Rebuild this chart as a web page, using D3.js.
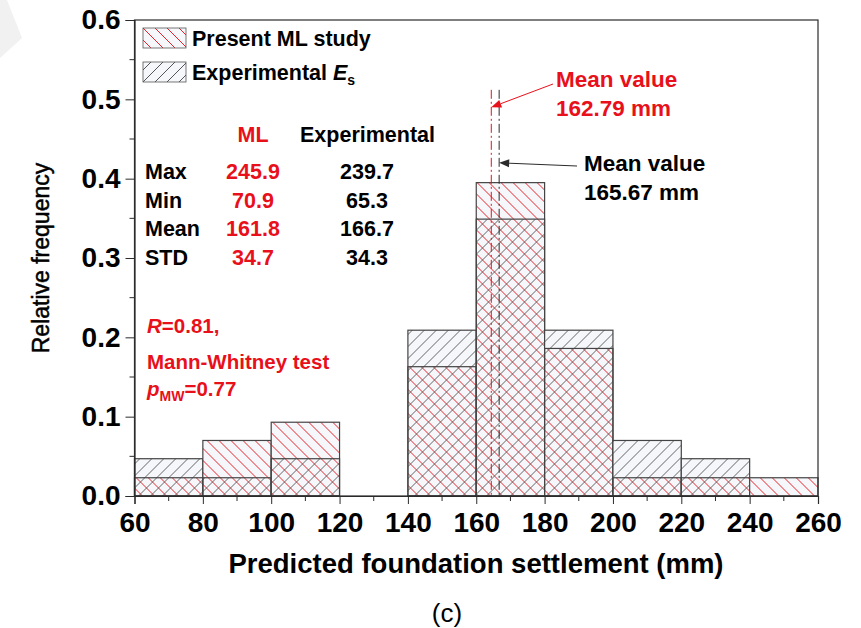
<!DOCTYPE html>
<html>
<head>
<meta charset="utf-8">
<script src="https://cdn.jsdelivr.net/npm/d3@7"></script>
<style>
  body { margin: 0; background: #fff; }
  text { font-family: "Liberation Sans", Arial, sans-serif; }
</style>
</head>
<body>
<script>
// histogram bins (lower edge, width 20 mm)
const binStart = [60, 80, 100, 120, 140, 160, 180, 200, 220, 240]
const binWidth = 20
const mlFreq  = [0.023, 0.070, 0.093, 0, 0.163, 0.395, 0.186, 0.023, 0.023, 0.023]
const expFreq = [0.047, 0.023, 0.047, 0, 0.209, 0.349, 0.209, 0.070, 0.047, 0]

const xTicks = [60, 80, 100, 120, 140, 160, 180, 200, 220, 240, 260]
const yTicks = [0.0, 0.1, 0.2, 0.3, 0.4, 0.5, 0.6]

// mean lines as drawn on the figure
const meanPos = [164.4, 166.7]
const meanLabels = ["162.79 mm", "165.67 mm"]

const statRows = ["Max", "Min", "Mean", "STD"]
const statML  = ["245.9", "70.9", "161.8", "34.7"]
const statExp = ["239.7", "65.3", "166.7", "34.3"]

const red = "#e8101a"
const dark = "#2b2b2b"
const mlLine = "#e8222c"
const expLine = "#555"

const margin = {top: 20, right: 43, bottom: 132, left: 134.5}
const W = 861, H = 628
const width = W - margin.left - margin.right
const height = H - margin.top - margin.bottom

const x = d3.scaleLinear().domain([60, 260]).range([0, width])
const y = d3.scaleLinear().domain([0, 0.6]).range([height, 0])

const svg = d3.select("body").append("svg")
    .attr("width", W)
    .attr("height", H)

// faint shape in the corner of the source image
svg.append("path")
    .attr("d", "M0,0 L7,0 L22,38 L0,58 Z")
    .attr("fill", "#f1f1f1")

const defs = svg.append("defs")
defs.append("pattern")
    .attr("id", "mlHatch")
    .attr("patternUnits", "userSpaceOnUse")
    .attr("width", 12).attr("height", 12)
    .append("path")
    .attr("d", "M-6,6 L6,18 M0,0 L12,12 M6,-6 L18,6")
    .attr("stroke", mlLine)
    .attr("stroke-width", 1)
defs.append("pattern")
    .attr("id", "expHatch")
    .attr("patternUnits", "userSpaceOnUse")
    .attr("width", 12).attr("height", 12)
    .append("path")
    .attr("d", "M-6,6 L6,-6 M0,12 L12,0 M6,18 L18,6")
    .attr("stroke", expLine)
    .attr("stroke-width", 0.9)

const g = svg.append("g")
    .attr("transform", "translate(" + margin.left + "," + margin.top + ")")

const bins = binStart.map(function(s, i) {
    return {x0: s, x1: s + binWidth, ml: mlFreq[i], exp: expFreq[i]}
})

const bin = g.selectAll(".bin")
    .data(bins)
    .enter()
    .append("g")
    .attr("class", "bin")

bin.append("rect")
    .attr("x", d => x(d.x0))
    .attr("width", d => x(d.x1) - x(d.x0))
    .attr("y", d => y(Math.max(d.ml, d.exp)))
    .attr("height", d => height - y(Math.max(d.ml, d.exp)))
    .attr("fill", "#f5f7fa")

bin.append("rect")
    .attr("x", d => x(d.x0))
    .attr("width", d => x(d.x1) - x(d.x0))
    .attr("y", d => y(d.ml))
    .attr("height", d => height - y(d.ml))
    .attr("fill", "url(#mlHatch)")

bin.append("rect")
    .attr("x", d => x(d.x0))
    .attr("width", d => x(d.x1) - x(d.x0))
    .attr("y", d => y(d.exp))
    .attr("height", d => height - y(d.exp))
    .attr("fill", "url(#expHatch)")

bin.filter(d => d.ml > 0).append("rect")
    .attr("x", d => x(d.x0))
    .attr("width", d => x(d.x1) - x(d.x0))
    .attr("y", d => y(d.ml))
    .attr("height", d => height - y(d.ml))
    .attr("fill", "none")
    .attr("stroke", "#444")
    .attr("stroke-width", 1.2)

bin.filter(d => d.exp > 0).append("rect")
    .attr("x", d => x(d.x0))
    .attr("width", d => x(d.x1) - x(d.x0))
    .attr("y", d => y(d.exp))
    .attr("height", d => height - y(d.exp))
    .attr("fill", "none")
    .attr("stroke", "#444")
    .attr("stroke-width", 1.2)

// mean lines
g.selectAll(".mean")
    .data(meanPos)
    .enter()
    .append("line")
    .attr("class", "mean")
    .attr("x1", d => x(d)).attr("x2", d => x(d))
    .attr("y1", y(0.512)).attr("y2", height)
    .attr("stroke", (d, i) => i == 0 ? red : dark)
    .attr("stroke-width", 1)
    .attr("stroke-dasharray", "9,3,2,3")

// frame
g.append("rect")
    .attr("width", width)
    .attr("height", height)
    .attr("fill", "none")
    .attr("stroke", dark)
    .attr("stroke-width", 1.2)

// axes
const xAxis = d3.axisBottom(x).tickValues(xTicks).tickSize(8).tickPadding(8).tickFormat(d3.format("d"))
const yAxis = d3.axisLeft(y).tickValues(yTicks).tickSize(9).tickPadding(5).tickFormat(d3.format(".1f"))

const xa = g.append("g")
    .attr("transform", "translate(0," + height + ")")
    .call(xAxis)
xa.append("g").selectAll("line")
    .data(d3.range(70, 260, 20))
    .enter().append("line")
    .attr("x1", d => x(d)).attr("x2", d => x(d))
    .attr("y1", 0).attr("y2", 5)
    .attr("stroke", dark)

const ya = g.append("g").call(yAxis)
ya.append("g").selectAll("line")
    .data(d3.range(0.05, 0.6, 0.1))
    .enter().append("line")
    .attr("x1", -5).attr("x2", 0)
    .attr("y1", d => y(d)).attr("y2", d => y(d))
    .attr("stroke", dark)

g.selectAll(".domain").attr("stroke", dark).attr("stroke-width", 1.2)
g.selectAll(".tick line").attr("stroke", dark)
g.selectAll(".tick text")
    .attr("font-size", 28)
    .attr("font-weight", "bold")
    .attr("fill", "#000")
    .style("font-family", "Liberation Sans, Arial, sans-serif")

// axis titles
svg.append("text")
    .attr("transform", "translate(49," + (margin.top + height / 2) + ") rotate(-90)")
    .attr("text-anchor", "middle")
    .attr("font-size", 23)
    .attr("stroke", "#000")
    .attr("stroke-width", 0.5)
    .text("Relative frequency")

svg.append("text")
    .attr("x", 476)
    .attr("y", 573)
    .attr("text-anchor", "middle")
    .attr("font-size", 27.5)
    .attr("font-weight", "bold")
    .text("Predicted foundation settlement (mm)")

svg.append("text")
    .attr("x", 447)
    .attr("y", 622)
    .attr("text-anchor", "middle")
    .attr("font-size", 26)
    .text("(c)")

// legend: swatches hatched with explicit lines
const legend = [
    {label: "Present ML study", color: mlLine, dir: 1},
    {label: "Experimental ", color: expLine, dir: -1, sub: true}
]
const sw = 43, sh = 20
defs.append("clipPath").attr("id", "swClip")
    .append("rect").attr("width", sw).attr("height", sh)

const leg = svg.selectAll(".legend")
    .data(legend)
    .enter()
    .append("g")
    .attr("class", "legend")
    .attr("transform", (d, i) => "translate(143," + (28 + i * 34) + ")")
leg.append("rect")
    .attr("width", sw).attr("height", sh)
    .attr("fill", "#f5f7fa")
leg.append("g")
    .attr("clip-path", "url(#swClip)")
    .each(function(d) {
        d3.select(this).selectAll("line")
            .data(d3.range(-24, sw + 12, 12))
            .enter().append("line")
            .attr("x1", k => k).attr("x2", k => k + sh)
            .attr("y1", d.dir > 0 ? 0 : sh).attr("y2", d.dir > 0 ? sh : 0)
            .attr("stroke", d.color)
            .attr("stroke-width", 1)
    })
leg.append("rect")
    .attr("width", sw).attr("height", sh)
    .attr("fill", "none")
    .attr("stroke", "#555")
    .attr("stroke-width", 0.8)
leg.append("text")
    .attr("x", 49).attr("y", 18)
    .attr("font-size", 21.5)
    .attr("font-weight", "bold")
    .each(function(d) {
        const t = d3.select(this)
        t.append("tspan").text(d.label)
        if (d.sub) {
            t.append("tspan").attr("font-style", "italic").text("E")
            t.append("tspan").attr("font-size", 14).attr("dy", 5).text("s")
        }
    })

// statistics table
const stats = svg.append("g").attr("font-size", 21.5).attr("font-weight", "bold")
stats.append("text").attr("x", 253).attr("y", 142).attr("text-anchor", "middle")
    .attr("fill", red).text("ML")
stats.append("text").attr("x", 300).attr("y", 142)
    .attr("fill", "#000").text("Experimental")
statRows.forEach(function(r, i) {
    const yy = 179 + i * 28.7
    stats.append("text").attr("x", 145).attr("y", yy)
        .attr("fill", "#000").text(r)
    stats.append("text").attr("x", 253).attr("y", yy).attr("text-anchor", "middle")
        .attr("fill", red).text(statML[i])
    stats.append("text").attr("x", 367).attr("y", yy).attr("text-anchor", "middle")
        .attr("fill", "#000").text(statExp[i])
})

// R and Mann-Whitney text
const note = svg.append("g").attr("font-size", 20.5).attr("font-weight", "bold").attr("fill", red)
const t1 = note.append("text").attr("x", 147).attr("y", 333)
t1.append("tspan").attr("font-style", "italic").text("R")
t1.append("tspan").text("=0.81,")
note.append("text").attr("x", 147).attr("y", 369).text("Mann-Whitney test")
const t3 = note.append("text").attr("x", 147).attr("y", 396)
t3.append("tspan").attr("font-style", "italic").text("p")
t3.append("tspan").attr("font-size", 14).attr("dy", 5).text("MW")
t3.append("tspan").attr("dy", -5).text("=0.77")

// mean value annotations with arrows
const ann = [
    {tip: [x(meanPos[0]), y(0.49)], from: [553, 84], color: red, tx: 556, ty: 87, label: meanLabels[0]},
    {tip: [x(meanPos[1]), y(0.42)], from: [577, 166], color: dark, tx: 584, ty: 171, label: meanLabels[1]}
]
ann.forEach(function(a) {
    const tipX = a.tip[0] + margin.left, tipY = a.tip[1] + margin.top
    const ang = Math.atan2(tipY - a.from[1], tipX - a.from[0])
    const L = 10, w = 4
    svg.append("line")
        .attr("x1", a.from[0]).attr("y1", a.from[1])
        .attr("x2", tipX - L * Math.cos(ang)).attr("y2", tipY - L * Math.sin(ang))
        .attr("stroke", a.color).attr("stroke-width", 1)
    const bx = tipX - L * Math.cos(ang), by = tipY - L * Math.sin(ang)
    svg.append("path")
        .attr("d", "M" + tipX + "," + tipY +
            "L" + (bx + w * Math.sin(ang)) + "," + (by - w * Math.cos(ang)) +
            "L" + (bx - w * Math.sin(ang)) + "," + (by + w * Math.cos(ang)) + "Z")
        .attr("fill", a.color)
    const txt = svg.append("text").attr("font-size", 22.5).attr("font-weight", "bold")
        .attr("fill", a.color == red ? red : "#000")
    txt.append("tspan").attr("x", a.tx).attr("y", a.ty).text("Mean value")
    txt.append("tspan").attr("x", a.tx).attr("y", a.ty + 29).text(a.label)
})
</script>
</body>
</html>
